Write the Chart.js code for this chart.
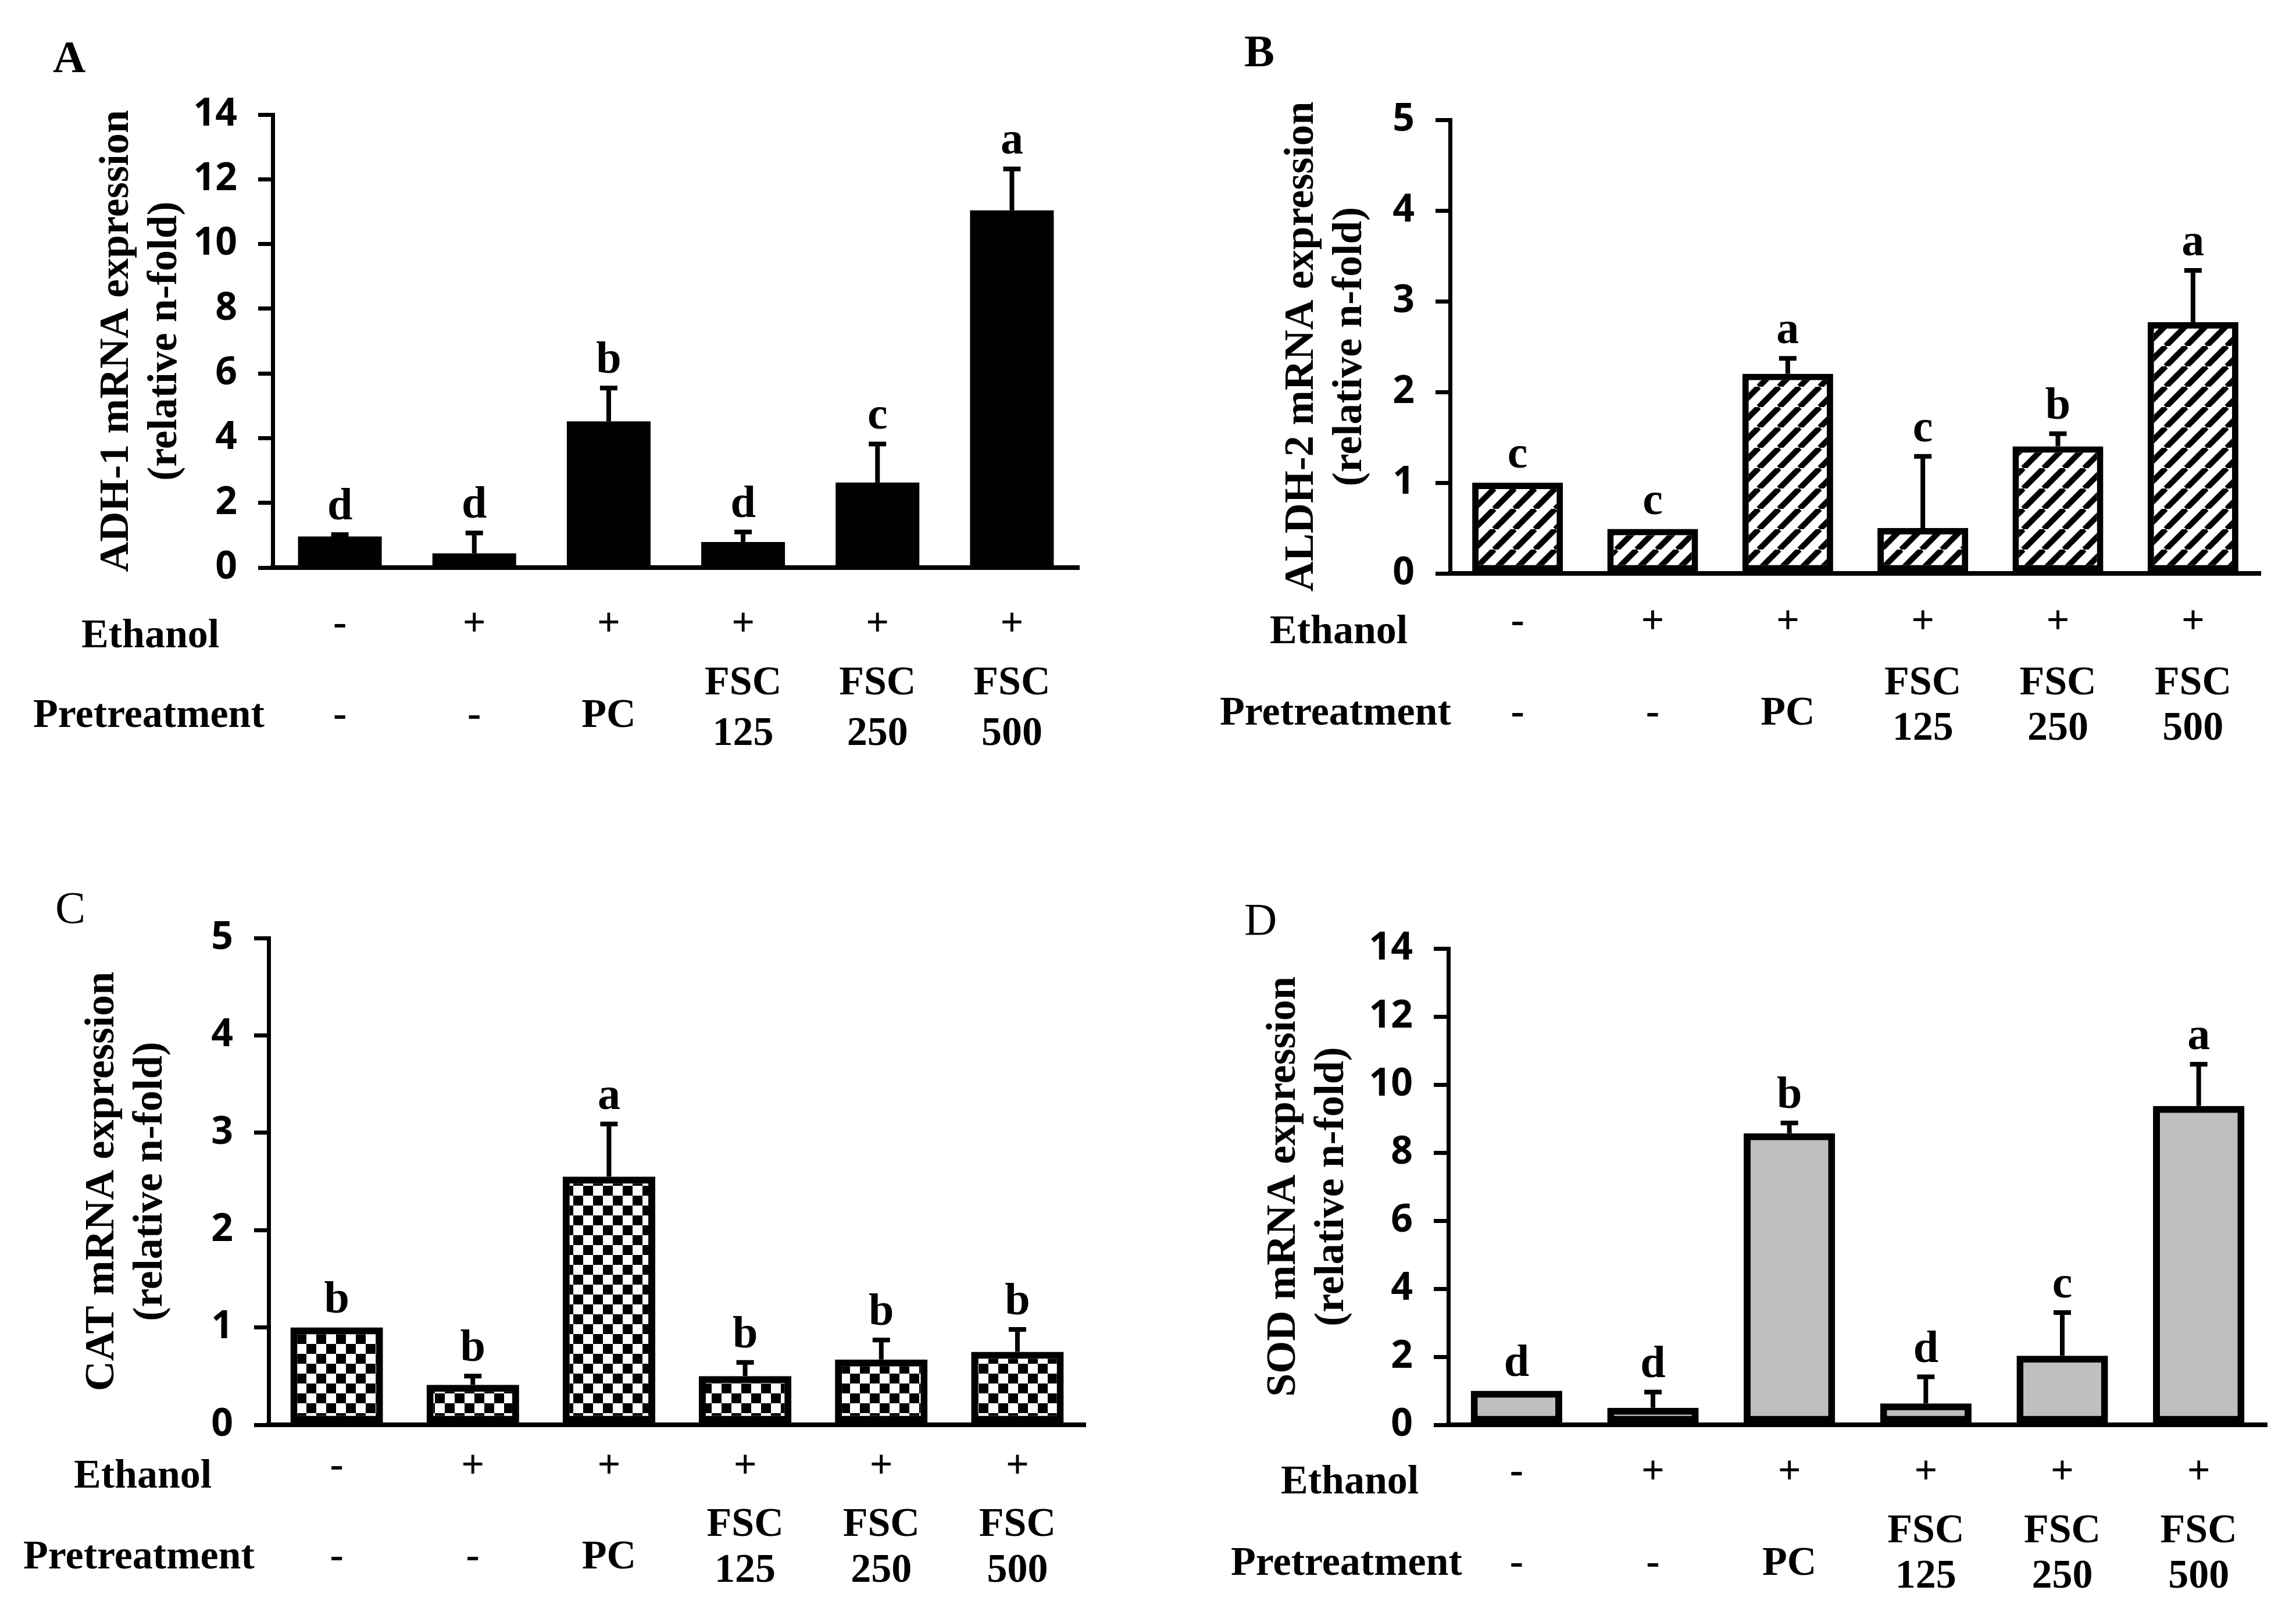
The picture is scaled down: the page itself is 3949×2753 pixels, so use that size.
<!DOCTYPE html>
<html>
<head>
<meta charset="utf-8">
<script src="https://cdn.jsdelivr.net/npm/chart.js@4.4.0/dist/chart.umd.min.js"></script>
<style>
  html, body { margin: 0; padding: 0; background: #fff; }
  body { width: 3949px; height: 2753px; position: relative; overflow: hidden; }
  canvas { position: absolute; }
</style>
</head>
<body>
<canvas id="chartA" width="1975" height="1376" style="left:0px;top:0px"></canvas>
<canvas id="chartB" width="1974" height="1376" style="left:1975px;top:0px"></canvas>
<canvas id="chartC" width="1975" height="1377" style="left:0px;top:1376px"></canvas>
<canvas id="chartD" width="1974" height="1377" style="left:1975px;top:1376px"></canvas>
<script>
// groups, same order in every panel
const groups = ['Control', 'Ethanol', 'PC', 'FSC 125', 'FSC 250', 'FSC 500'];
const ethanolRow = ['-', '+', '+', '+', '+', '+'];
const pretreatmentRow = [['-'], ['-'], ['PC'], ['FSC', '125'], ['FSC', '250'], ['FSC', '500']];

// A: ADH-1
const adh1Mean = [0.96, 0.44, 4.52, 0.79, 2.63, 11.04];
const adh1Err = [0.06, 0.63, 1.03, 0.31, 1.19, 1.28];
const adh1Letters = ['d', 'd', 'b', 'd', 'c', 'a'];

// B: ALDH-2
const aldh2Mean = [1.0, 0.49, 2.2, 0.5, 1.4, 2.77];
const aldh2Err = [0, 0, 0.17, 0.79, 0.14, 0.57];
const aldh2Letters = ['c', 'c', 'a', 'c', 'b', 'a'];

// C: CAT
const catMean = [1.0, 0.41, 2.55, 0.5, 0.67, 0.75];
const catErr = [0, 0.09, 0.54, 0.14, 0.2, 0.23];
const catLetters = ['b', 'b', 'a', 'b', 'b', 'b'];

// D: SOD
const sodMean = [1.0, 0.5, 8.57, 0.63, 2.03, 9.37];
const sodErr = [0, 0.46, 0.3, 0.78, 1.27, 1.23];
const sodLetters = ['d', 'd', 'b', 'd', 'c', 'a'];

const SERIF = '"Liberation Serif", "DejaVu Serif", serif';
const SANS = '"Noto Sans", "Liberation Sans", sans-serif';

function hatchPattern(ctx) {
    const s = 35;
    const tile = document.createElement('canvas');
    tile.width = tile.height = s;
    const g = tile.getContext('2d');
    g.fillStyle = '#fff';
    g.fillRect(0, 0, s, s);
    g.strokeStyle = '#000';
    g.lineWidth = 10;
    [-s, 0, s].forEach(o => {
        g.beginPath();
        g.moveTo(o, s);
        g.lineTo(o + s, 0);
        g.stroke();
    });
    return ctx.createPattern(tile, 'repeat');
}

function checkerPattern(ctx) {
    const s = 17;
    const tile = document.createElement('canvas');
    tile.width = tile.height = s * 2;
    const g = tile.getContext('2d');
    g.fillStyle = '#fff';
    g.fillRect(0, 0, s * 2, s * 2);
    g.fillStyle = '#000';
    g.fillRect(0, 0, s, s);
    g.fillRect(s, s, s, s);
    return ctx.createPattern(tile, 'repeat');
}

// error bars, letters, the treatment table and the panel letter
const decorPlugin = {
    id: 'decor',
    afterDatasetsDraw(chart, args, opts) {
        const ctx = chart.ctx;
        const yScale = chart.scales.y;
        const bars = chart.getDatasetMeta(0).data;
        ctx.save();
        bars.forEach((bar, i) => {
            const top = yScale.getPixelForValue(opts.mean[i] + opts.err[i]);
            if (opts.err[i] > 0) {
                ctx.strokeStyle = '#000';
                ctx.lineWidth = 8;
                ctx.beginPath();
                ctx.moveTo(bar.x, bar.y);
                ctx.lineTo(bar.x, top);
                ctx.moveTo(bar.x - 15, top);
                ctx.lineTo(bar.x + 15, top);
                ctx.stroke();
            }
            ctx.fillStyle = '#000';
            ctx.font = 'bold 78px ' + SERIF;
            ctx.textAlign = 'center';
            ctx.textBaseline = 'alphabetic';
            ctx.fillText(opts.letters[i], bar.x, top - 26);
        });
        ctx.restore();
    },
    afterDraw(chart, args, opts) {
        const ctx = chart.ctx;
        const xScale = chart.scales.x;
        const r = opts.rows;
        ctx.save();
        ctx.fillStyle = '#000';
        ctx.font = 'bold 70px ' + SERIF;
        ctx.textBaseline = 'middle';

        ctx.textAlign = 'left';
        ctx.fillText('Ethanol', r.ethX, r.eth);
        ctx.fillText('Pretreatment', r.preX, r.pre);

        ctx.textAlign = 'center';
        ethanolRow.forEach((t, i) => {
            ctx.fillText(t, xScale.getPixelForValue(i), r.sym);
        });
        pretreatmentRow.forEach((lines, i) => {
            const x = xScale.getPixelForValue(i);
            if (lines.length === 1) {
                ctx.fillText(lines[0], x, r.pre);
            } else {
                ctx.fillText(lines[0], x, r.two[0]);
                ctx.fillText(lines[1], x, r.two[1]);
            }
        });

        ctx.textAlign = 'left';
        ctx.textBaseline = 'alphabetic';
        ctx.font = (opts.labelBold ? 'bold ' : '') + '78px ' + SERIF;
        ctx.fillText(opts.label, opts.labelX, opts.labelY);
        ctx.restore();
    }
};

const panels = [
    {
        id: 'chartA', label: 'A', labelBold: true, labelX: 91, labelY: 124,
        mean: adh1Mean, err: adh1Err, letters: adh1Letters, max: 14, step: 2,
        title: ['ADH-1 mRNA expression', '(relative n-fold)'], titlePad: 160,
        fill: 'solid', barPct: 0.623, borderWidth: 0,
        area: { left: 469, right: 1856, top: 197, bottom: 976 },
        rows: { sym: 1075, eth: 1095, ethX: 140, pre: 1232, preX: 57, two: [1176, 1263] }
    },
    {
        id: 'chartB', label: 'B', labelBold: true, labelX: 165, labelY: 114,
        mean: aldh2Mean, err: aldh2Err, letters: aldh2Letters, max: 5, step: 1,
        title: ['ALDH-2 mRNA expression', '(relative n-fold)'], titlePad: 223,
        fill: 'hatch', barPct: 0.672, borderWidth: 11,
        area: { left: 519, right: 1913, top: 206, bottom: 986 },
        rows: { sym: 1071, eth: 1088, ethX: 209, pre: 1228, preX: 123, two: [1176, 1254] }
    },
    {
        id: 'chartC', label: 'C', labelBold: false, labelX: 95, labelY: 211,
        mean: catMean, err: catErr, letters: catLetters, max: 5, step: 1,
        title: ['CAT mRNA expression', '(relative n-fold)'], titlePad: 135,
        fill: 'checker', barPct: 0.68, borderWidth: 12,
        area: { left: 462, right: 1867, top: 237, bottom: 1074 },
        rows: { sym: 1147, eth: 1164, ethX: 127, pre: 1303, preX: 40, two: [1247, 1326] }
    },
    {
        id: 'chartD', label: 'D', labelBold: false, labelX: 165, labelY: 231,
        mean: sodMean, err: sodErr, letters: sodLetters, max: 14, step: 2,
        title: ['SOD mRNA expression', '(relative n-fold)'], titlePad: 192,
        fill: 'gray', barPct: 0.67, borderWidth: 12,
        area: { left: 516, right: 1924, top: 255, bottom: 1074 },
        rows: { sym: 1157, eth: 1174, ethX: 228, pre: 1314, preX: 142, two: [1258, 1336] }
    }
];

panels.forEach(p => {
    const canvas = document.getElementById(p.id);
    const ctx = canvas.getContext('2d');
    let bg = '#000';
    if (p.fill === 'hatch') bg = hatchPattern(ctx);
    if (p.fill === 'checker') bg = checkerPattern(ctx);
    if (p.fill === 'gray') bg = '#bfbfbf';

    new Chart(ctx, {
        type: 'bar',
        data: {
            labels: groups,
            datasets: [{
                data: p.mean,
                backgroundColor: bg,
                borderColor: '#000',
                borderWidth: p.borderWidth,
                borderSkipped: false,
                barPercentage: p.barPct,
                categoryPercentage: 1.0
            }]
        },
        options: {
            responsive: false,
            animation: false,
            devicePixelRatio: 1,
            layout: {
                padding: {
                    left: 0,
                    top: p.area.top,
                    right: canvas.width - p.area.right,
                    bottom: canvas.height - p.area.bottom
                }
            },
            scales: {
                x: {
                    offset: true,
                    ticks: { display: false },
                    grid: { display: false },
                    border: { display: true, width: 8, color: '#000' },
                    afterFit: s => { s.height = 0; }
                },
                y: {
                    min: 0,
                    max: p.max,
                    ticks: {
                        stepSize: p.step,
                        padding: 36,
                        color: '#000',
                        font: { family: SANS, weight: 'bold', size: 66 }
                    },
                    grid: { drawOnChartArea: false, drawTicks: true, tickLength: 25, lineWidth: 7, color: '#000' },
                    border: { display: true, width: 7, color: '#000' },
                    title: {
                        display: true,
                        text: p.title,
                        color: '#000',
                        font: { family: SERIF, weight: 'bold', size: 72, lineHeight: 1.15 },
                        padding: { top: p.titlePad, bottom: 0 }
                    },
                    afterFit: s => { s.width = p.area.left; }
                }
            },
            plugins: {
                legend: { display: false },
                tooltip: { enabled: false },
                decor: {
                    mean: p.mean, err: p.err, letters: p.letters, rows: p.rows,
                    label: p.label, labelBold: p.labelBold, labelX: p.labelX, labelY: p.labelY
                }
            }
        },
        plugins: [decorPlugin]
    });
});
</script>
</body>
</html>
